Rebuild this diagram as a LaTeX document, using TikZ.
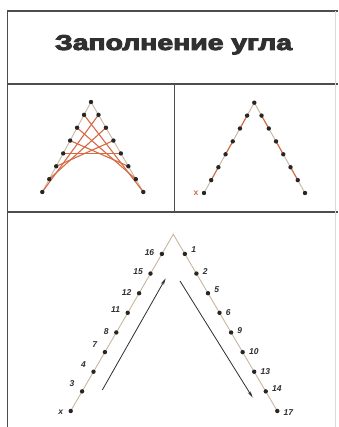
\documentclass[tikz,border=0pt]{standalone}
\usepackage{fontspec}
\setmainfont{Liberation Sans}
\newfontfamily\titlefont[BoldFeatures={FakeBold=4}]{Liberation Sans}
\newfontfamily\numfont{Liberation Sans}
\usetikzlibrary{calc,arrows.meta}
\definecolor{frameclr}{HTML}{4D4D4D}
\definecolor{sideclr}{HTML}{C8B79E}
\definecolor{redclr}{HTML}{D66A45}
\definecolor{inkclr}{HTML}{2E2E2E}
\definecolor{titleclr}{HTML}{303030}
\tikzset{
  frameline/.style={draw=frameclr,line width=1.1pt},
  sideline/.style={draw=sideclr,line width=0.9pt},
  redline/.style={draw=redclr,line width=1.1pt},
  dot/.style={circle,fill=black!85,inner sep=0pt,minimum size=4.4pt},
  num/.style={inner sep=0pt,text=inkclr,font=\numfont\itshape\bfseries\fontsize{8.5}{9}\selectfont},
  arrowline/.style={draw=inkclr,line width=0.8pt,-{Stealth[length=7pt,width=3.2pt]}}
}
\begin{document}
\begin{tikzpicture}[x=1pt,y=-1pt]
\useasboundingbox (0,0) rectangle (338,427);
\fill[white] (0,0) rectangle (338,427);
% frame
\draw[frameline] (7.5,427) -- (7.5,11) -- (338,11);
\draw[frameline] (7.5,84) -- (338,84);
\draw[frameline] (7.5,212) -- (338,212);
\draw[frameline] (174.5,84) -- (174.5,212);
\draw[draw=black!15,line width=0.8pt] (335,11) -- (335,427);
% title
\node[anchor=base,text=titleclr] (title) at (173.5,50) {\resizebox{237pt}{15pt}{\titlefont\bfseries Заполнение угла}};

% panel 2: filled angle
\coordinate (PA) at (91,102);
\coordinate (PL) at (42.3,192);
\coordinate (PR) at (143.3,192);
\draw[sideline] (PL) -- (PA) -- (PR);
\foreach \k in {1,...,7} {
  \coordinate (pl\k) at ($(PA)!\k/7!(PL)$);
  \coordinate (pr\k) at ($(PA)!\k/7!(PR)$);
}
\foreach \k [evaluate=\k as \m using {int(8-\k)}] in {1,...,7}
  \draw[redline] (pl\k) -- (pr\m);
\node[dot] (pa) at (PA) {};
\foreach \k in {1,...,7} {
  \node[dot] at (pl\k) {};
  \node[dot] at (pr\k) {};
}

% panel 3: back stitches
\coordinate (QA) at (254.3,102.7);
\coordinate (QL) at (204,193);
\coordinate (QR) at (305,193);
\draw[sideline] (QL) -- (QA) -- (QR);
\foreach \k in {1,...,7} {
  \coordinate (ql\k) at ($(QA)!\k/7!(QL)$);
  \coordinate (qr\k) at ($(QA)!\k/7!(QR)$);
}
\foreach \a/\b in {1/2,3/4,5/6} {
  \draw[redline] (ql\a) -- (ql\b);
  \draw[redline] (qr\a) -- (qr\b);
}
\node[dot] (qa) at (QA) {};
\foreach \k in {1,...,7} {
  \node[dot] at (ql\k) {};
  \node[dot] at (qr\k) {};
}
\node[num,text=redclr,font=\numfont\bfseries\fontsize{8.5}{9}\selectfont,anchor=east] (qx) at ($(QL)+(-5.5,0)$) {x};

% bottom panel: numbered scheme
\coordinate (BA) at (173.3,234.3);
\coordinate (BL) at (70.7,411);
\coordinate (BR) at (277.3,411);
\draw[sideline] (BL) -- (BA) -- (BR);
\foreach \k in {1,...,9} {
  \node[dot] (bl\k) at ($(BA)!\k/9!(BL)$) {};
  \node[dot] (br\k) at ($(BA)!\k/9!(BR)$) {};
}
\foreach \k/\t/\dy in {1/16/-1.6,2/15/-2.3,3/12/-0.6,4/11/-3,5/8/-1.3,6/7/-7.6,7/4/-7.3,8/3/-8,9/x/1.3}
  \node[num,anchor=east] at ($(bl\k.center)+(-7.5,\dy)$) {\t};
\foreach \k/\t/\dy in {1/1/-4.6,2/2/-2,3/5/-3.4,4/6/0,5/9/-1.7,6/10/-1,7/13/0,8/14/-2.4,9/17/1.6}
  \node[num,anchor=west] at ($(br\k.center)+(6.2,\dy)$) {\t};
% arrows
\coordinate (ua) at (102.3,390);
\coordinate (ub) at (165.7,278.3);
\coordinate (da) at (180,281);
\coordinate (db) at (252.7,397.7);
\draw[arrowline] (ua) -- (ub);
\draw[arrowline] (da) -- (db);
\end{tikzpicture}
\end{document}
